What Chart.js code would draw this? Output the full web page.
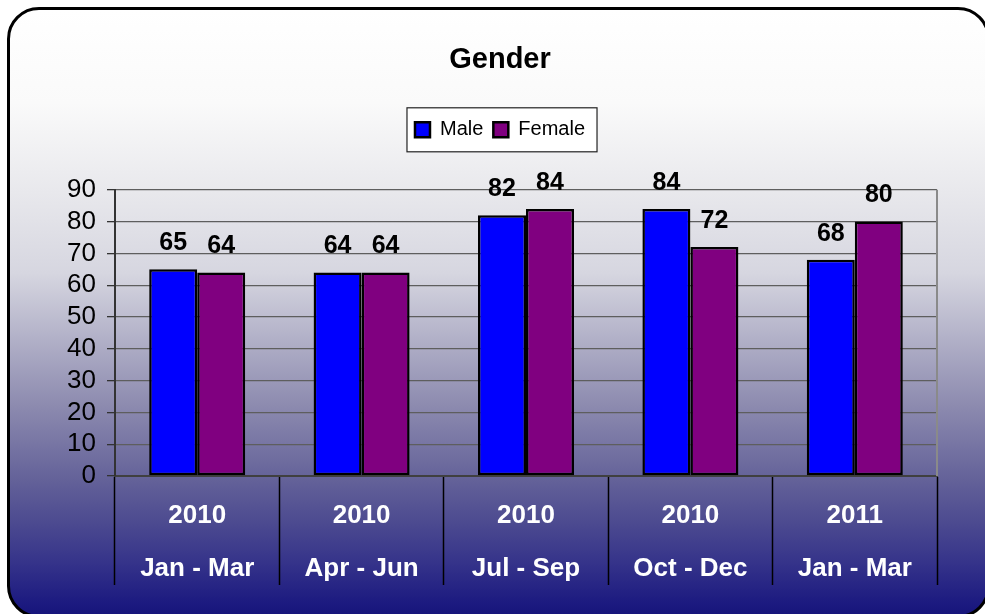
<!DOCTYPE html>
<html>
<head>
<meta charset="utf-8">
<title>Gender</title>
<script src="https://cdn.jsdelivr.net/npm/chart.js@4.4.1/dist/chart.umd.min.js"></script>
<style>
html,body{margin:0;padding:0;background:#fff;overflow:hidden}
#wrap{position:relative;width:985px;height:614px;overflow:hidden}
#frame{position:absolute;left:7px;top:7px;width:983px;height:611px;box-sizing:border-box;border:3px solid #000;border-radius:32px;
background:linear-gradient(to bottom,#ffffff 0px,#fafafa 93px,#e8e8ec 183px,#d6d6e0 263px,#8e8cb0 393px,#646299 469px,#4c4a90 513px,#35338a 553px,#1c1a80 593px,#141278 611px)}
#c{position:absolute;left:0;top:0}
</style>
</head>
<body>
<div id="wrap">
<div id="frame"></div>
<canvas id="c" width="985" height="614"></canvas>
</div>
<script>

const categories=[["2010","Jan - Mar"],["2010","Apr - Jun"],["2010","Jul - Sep"],["2010","Oct - Dec"],["2011","Jan - Mar"]]
const male=[65,64,82,84,68]
const female=[64,64,84,72,80]
const yTicks=[0,10,20,30,40,50,60,70,80,90]

const FONT="'Liberation Sans', Arial, Helvetica, sans-serif"

Chart.defaults.font.family=FONT
Chart.defaults.color="#000"

// numbers above each bar
const barLabels={
id:"barLabels",
afterDatasetsDraw(chart){
let ctx=chart.ctx
ctx.save()
ctx.font="bold 25px "+FONT
ctx.fillStyle="#000"
ctx.textAlign="center"
ctx.textBaseline="middle"
chart.data.datasets.forEach((ds,i)=>{
chart.getDatasetMeta(i).data.forEach((bar,j)=>{
ctx.fillText(ds.data[j],bar.x,bar.y-26)
})
})
ctx.restore()
}
}

// white box with a frame behind the legend, and the plot's right edge
const frames={
id:"frames",
beforeDraw(chart){
let boxes=chart.legend.legendHitBoxes
if(!boxes||!boxes.length)return
let left=Math.min(...boxes.map(b=>b.left))-8
let right=Math.max(...boxes.map(b=>b.left+b.width))+12
let top=boxes[0].top-12
let bottom=boxes[0].top+boxes[0].height+12
let ctx=chart.ctx
ctx.save()
ctx.fillStyle="#fff"
ctx.fillRect(left,top,right-left,bottom-top)
ctx.strokeStyle="#222"
ctx.lineWidth=1.2
ctx.strokeRect(left,top,right-left,bottom-top)
ctx.restore()
},
beforeDatasetsDraw(chart){
let a=chart.chartArea
let ctx=chart.ctx
ctx.save()
ctx.strokeStyle="#8a8a8a"
ctx.lineWidth=2
ctx.beginPath()
ctx.moveTo(a.right,a.top)
ctx.lineTo(a.right,a.bottom)
ctx.stroke()
ctx.restore()
}
}

new Chart(document.getElementById("c"),{

type:"bar",

data:{
labels:categories,
datasets:[
{label:"Male",data:male,backgroundColor:"#0000ff",borderColor:"#000",borderWidth:2.5,borderSkipped:false},
{label:"Female",data:female,backgroundColor:"#800080",borderColor:"#000",borderWidth:2.5,borderSkipped:false}
]
},

options:{
responsive:false,
animation:false,
devicePixelRatio:1,
datasets:{bar:{categoryPercentage:0.584,barPercentage:1}},
layout:{padding:{left:15,right:0,top:0,bottom:22}},
plugins:{
title:{display:true,text:"Gender",color:"#000",font:{size:29,weight:"bold"},padding:{top:43,bottom:32}},
legend:{display:true,position:"top",labels:{boxWidth:15,boxHeight:15,color:"#000",font:{size:20},padding:10}},
tooltip:{enabled:false}
},
scales:{
x:{
grid:{offset:true,drawOnChartArea:false,tickLength:109,tickColor:"#000",tickWidth:1.5},
border:{color:"#404040",width:2},
ticks:{color:"#fff",font:{size:26,weight:"bold",lineHeight:2.04},padding:-96,maxRotation:0,autoSkip:false},
afterFit(s){s.height=116}
},
y:{
min:yTicks[0],
max:yTicks[yTicks.length-1],
ticks:{stepSize:yTicks[1]-yTicks[0],autoSkip:false,color:"#000",font:{size:26},padding:11},
grid:{color:"#5e5e5e",lineWidth:1.3,tickLength:8,tickColor:"#333"},
border:{color:"#333",width:2},
afterFit(s){s.width=100}
},
xTop:{
type:"category",position:"top",
grid:{display:false},border:{display:false},ticks:{display:false},
afterFit(s){s.height=40}
},
yRight:{
type:"linear",position:"right",
grid:{display:false},border:{display:false},ticks:{display:false},
afterFit(s){s.width=48}
}
}
},

plugins:[barLabels,frames]

})

</script>
</body>
</html>
